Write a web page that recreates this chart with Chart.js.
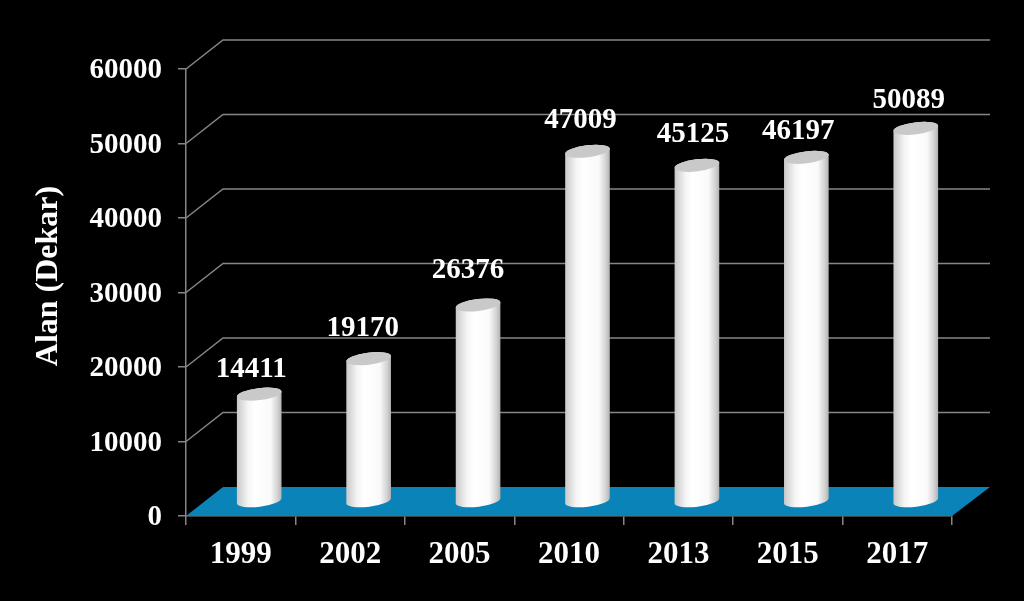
<!DOCTYPE html>
<html>
<head>
<meta charset="utf-8">
<style>
html, body { margin: 0; padding: 0; background: #000; }
canvas { display: block; }
</style>
<script src="https://cdn.jsdelivr.net/npm/chart.js@4/dist/chart.umd.min.js"></script>
</head>
<body>
<canvas id="chart" width="1024" height="601"></canvas>
<script>
const years = ['1999', '2002', '2005', '2010', '2013', '2015', '2017']
const area = [14411, 19170, 26376, 47009, 45125, 46197, 50089]
const yTicks = [0, 10000, 20000, 30000, 40000, 50000, 60000]
const axisTitle = 'Alan (Dekar)'

const FONT = '"Liberation Serif", "Times New Roman", serif'
const LINE = '#868686'
const FLOOR = '#0a83b8'
// depth of the fake 3d box, px
const DEPTH_X = 37
const DEPTH_Y = 29

// the labels in the picture were placed by hand, so each gets its own nudge
const labelNudgeX = [1, 3, -1, 2, 5, 1, 2]
const labelNudgeY = [6, 1, -3, 0, 0, 5, 3]

const wallPlugin = {
    id: 'wall',
    afterUpdate(chart){
        // y tick labels sit 2px lower than chart.js centers them
        for(const item of chart.scales.y.getLabelItems(chart.chartArea)){
            item.options.translation[1] += 2
        }
    },
    beforeDatasetsDraw(chart){
        const {ctx, chartArea, scales} = chart
        const left = chartArea.left
        const right = chartArea.right + 1
        ctx.save()
        ctx.strokeStyle = LINE
        ctx.lineWidth = 1.5
        for(const v of yTicks){
            if(v == 0) continue
            const y = scales.y.getPixelForValue(v)
            ctx.beginPath()
            ctx.moveTo(left, y)
            ctx.lineTo(left + DEPTH_X, y - DEPTH_Y)
            ctx.lineTo(right + DEPTH_X, y - DEPTH_Y)
            ctx.stroke()
        }
        // floor
        const y0 = scales.y.getPixelForValue(0)
        ctx.fillStyle = FLOOR
        ctx.beginPath()
        ctx.moveTo(left, y0)
        ctx.lineTo(right - 1, y0)
        ctx.lineTo(right + DEPTH_X, y0 - DEPTH_Y)
        ctx.lineTo(left + DEPTH_X, y0 - DEPTH_Y)
        ctx.closePath()
        ctx.fill()
        ctx.restore()
    }
}

const cylinderPlugin = {
    id: 'cylinders',
    afterDatasetsDraw(chart){
        const {ctx} = chart
        const meta = chart.getDatasetMeta(0)
        const tilt = -7 * Math.PI / 180
        ctx.save()
        meta.data.forEach((bar, i) => {
            const cx = bar.x + DEPTH_X / 2
            const top = bar.y - DEPTH_Y / 2
            const bottom = bar.base - DEPTH_Y / 2
            const rx = bar.width / 2
            const ry = 6
            const grad = ctx.createLinearGradient(cx - rx, 0, cx + rx, 0)
            grad.addColorStop(0, '#c8c8c8')
            grad.addColorStop(0.25, '#f5f5f5')
            grad.addColorStop(0.4, '#ffffff')
            grad.addColorStop(0.75, '#fafafa')
            grad.addColorStop(0.92, '#cfcfcf')
            grad.addColorStop(1, '#b0b0b0')
            ctx.fillStyle = grad
            ctx.beginPath()
            ctx.ellipse(cx, bottom, rx, ry, tilt, Math.PI, 0, true)
            ctx.ellipse(cx, top, rx, ry, tilt, 0, Math.PI, true)
            ctx.closePath()
            ctx.fill()
            ctx.fillStyle = '#c9c9c9'
            ctx.beginPath()
            ctx.ellipse(cx, top, rx, ry, tilt, 0, Math.PI * 2)
            ctx.fill()
            // value label
            ctx.fillStyle = '#fff'
            ctx.font = 'bold 29px ' + FONT
            ctx.textAlign = 'center'
            ctx.textBaseline = 'middle'
            ctx.fillText(String(area[i]), cx - 9 + labelNudgeX[i], top - 31 + labelNudgeY[i])
        })
        // rotated axis title
        ctx.translate(49, 276)
        ctx.rotate(-Math.PI / 2)
        ctx.fillStyle = '#fff'
        ctx.font = 'bold 32px ' + FONT
        ctx.textAlign = 'center'
        ctx.textBaseline = 'middle'
        ctx.fillText(axisTitle, 0, 0)
        ctx.restore()
    }
}

new Chart(document.getElementById('chart').getContext('2d'), {
    type: 'bar',
    data: {
        labels: years,
        datasets: [{
            label: axisTitle,
            data: area,
            backgroundColor: 'transparent',
            borderWidth: 0,
            categoryPercentage: 1,
            barPercentage: 0.411
        }]
    },
    plugins: [wallPlugin, cylinderPlugin],
    options: {
        responsive: false,
        animation: false,
        layout: {
            padding: {left: 24, top: 69, right: 72, bottom: 0}
        },
        plugins: {
            legend: {display: false},
            tooltip: {enabled: false}
        },
        scales: {
            x: {
                afterFit(scale){ scale.height = 85 },
                grid: {drawOnChartArea: false, color: LINE, tickLength: 9, lineWidth: 1.5},
                border: {color: LINE, width: 1.5},
                ticks: {
                    color: '#fff',
                    padding: 11,
                    maxRotation: 0,
                    autoSkip: false,
                    font: {family: FONT, weight: 'bold', size: 31}
                }
            },
            y: {
                min: 0,
                max: 60000,
                afterFit(scale){ scale.width = 162 },
                grid: {drawOnChartArea: false, color: LINE, tickLength: 8, lineWidth: 1.5},
                border: {color: LINE, width: 1.5},
                ticks: {
                    color: '#fff',
                    stepSize: 10000,
                    padding: 16,
                    callback: v => String(v),
                    font: {family: FONT, weight: 'bold', size: 29}
                }
            }
        }
    }
})
</script>
</body>
</html>
